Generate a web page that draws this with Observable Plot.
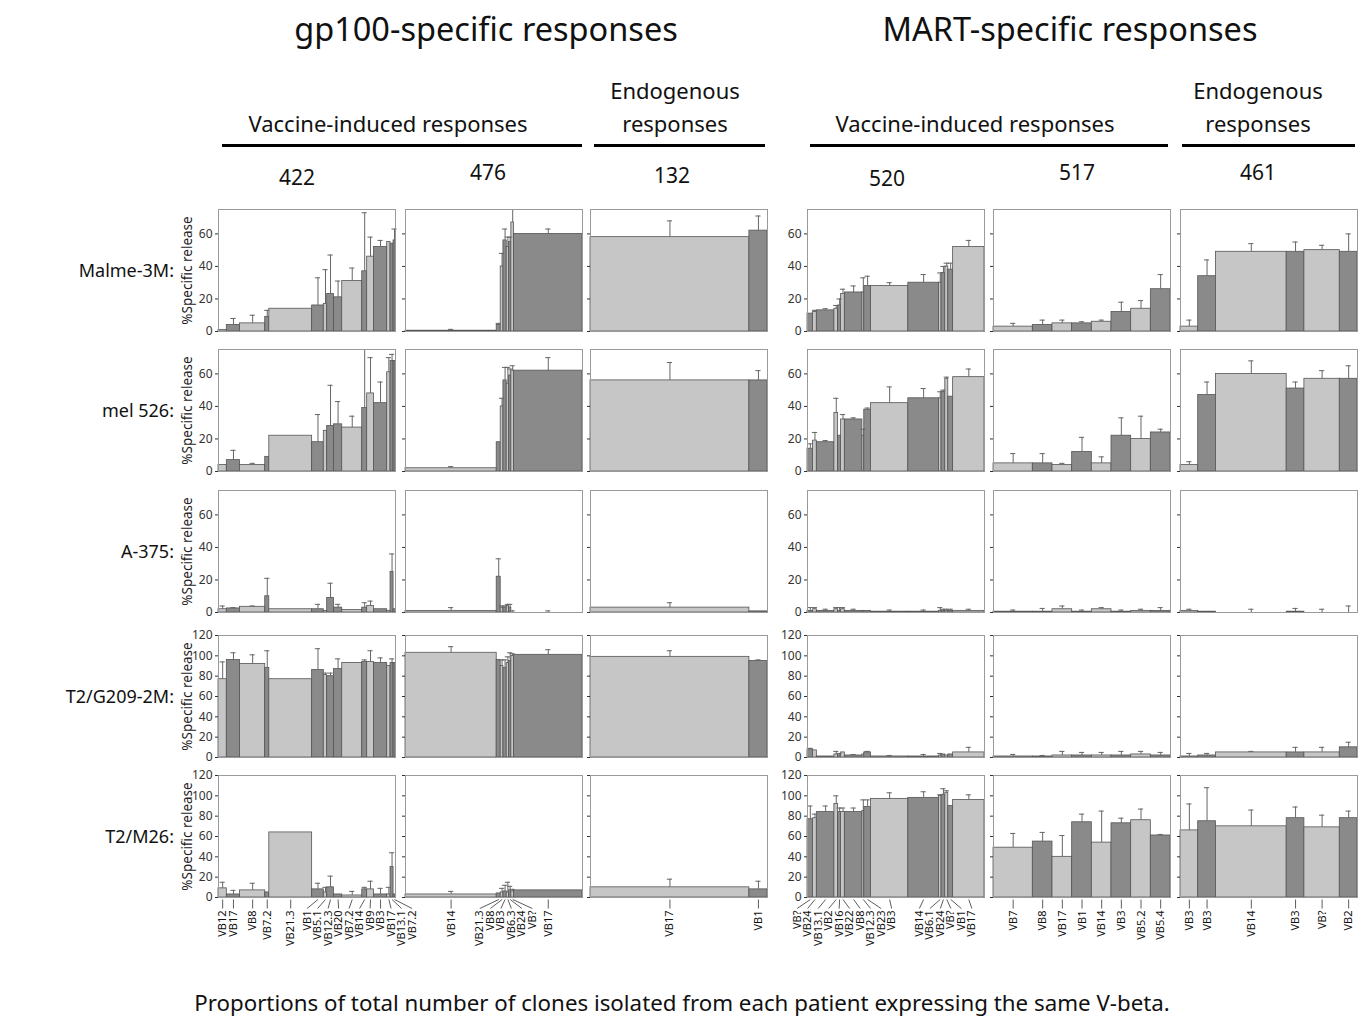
<!DOCTYPE html>
<html><head><meta charset="utf-8">
<script src="https://cdn.jsdelivr.net/npm/d3@7"></script>
<script src="https://cdn.jsdelivr.net/npm/@observablehq/plot@0.6"></script>
<style>
body{margin:0;background:#fff;font-family:"Noto Sans",sans-serif;}
#fig{position:relative;width:1364px;height:1018px;overflow:hidden;background:#fff;}
.t{position:absolute;transform:translate(-50%,-50%);white-space:nowrap;color:#111;text-align:center;line-height:1;}
.rl{position:absolute;transform:translate(-100%,-50%);white-space:nowrap;color:#111;line-height:1;}
.hl{position:absolute;height:3px;background:#000;}
.p{position:absolute;}
</style></head><body><div id="fig"></div>
<script>
// ---------- DATA ----------
const rowNames = ["Malme-3M:", "mel 526:", "A-375:", "T2/G209-2M:", "T2/M26:"];
const rowMax = [75, 75, 75, 120, 120];

const colIds = ["422", "476", "132", "520", "517", "461"];

// patient 422 (gp100, vaccine)
const labels422 = ["VB12","VB17","VB8","VB7.2","VB21.3","VB1","VB5.1","VB12.3","VB20","VB7.2","VB14","VB9","VB3","VB17","VB13.1","VB7.2"];
const share422  = [4.7,7.5,14.2,2.3,24.2,6.6,1.9,3.8,4.7,11.3,2.8,3.8,7.5,1.9,1.7,1.1];
const shade422  = ["L","D","L","D","L","D","L","D","D","L","D","L","D","L","D","D"];
const val422 = [
  [1,4,5,9,14,16,17,23,21,31,37,46,52,55,54,56],
  [4,7,4,9,22,18,25,28,29,27,39,48,42,61,68,68],
  [2,2.5,3.5,10,2,2,1,9,3,1.5,3,4,2,1,25,2],
  [77,96,92,88,77,86,81,80,87,93,94,94,93,90,93,93],
  [9,3,7,5,64,8,5,10,3,2,8,8,3,3,30,3]
];
const err422 = [
  [0,4,5,4,0,17,21,24,10,8,36,12,4,0,0,7],
  [0,6,1,0,0,17,0,25,14,7,36,22,13,9,4,0],
  [2,0.5,0.5,11,0,3,0,9,2,0,3,3,0,0,11,0],
  [17,7,9,17,0,21,2,3,10,0,2,11,5,0,4,0],
  [6,4,7,0,0,6,5,11,0,4,2,8,6,7,14,0]
];

// patient 476 (gp100, vaccine)
const labels476 = ["VB14","VB21.3","VB8","VB3","VB6.3","VB24","VB?","VB17"];
const share476  = [91,4,2.7,3.3,2.3,2.3,2.7,68.3];
const shade476  = ["L","D","L","D","L","D","L","D"];
const val476 = [
  [0.5,4,40,56,52,55,67,60],
  [2,18,40,56,54,59,62,62],
  [1,22,3,3,4,3,0,0],
  [103,96,90,88,93,95,100,101],
  [3,4,5,6,5,7,6,7]
];
const err476 = [
  [0.8,1,8,7,6,3,11,3],
  [1,0,5,8,10,4,3,8],
  [2,11,1,1,1,2,1,1],
  [6,0,6,8,6,8,2,5],
  [3,0,4,6,10,4,2,0]
];

// patient 132 (gp100, endogenous)
const labels132 = ["VB17","VB1"];
const share132  = [158,18];
const shade132  = ["L","D"];
const val132 = [[58,62],[56,56],[3,0.7],[99,95],[10,8]];
const err132 = [[10,9],[11,6],[3,0],[6,1],[8,8]];

// patient 520 (MART, vaccine)
const labels520 = ["VB?","VB24","VB13.1","VB2","VB16","VB22","VB8","VB12.3","VB23","VB3","VB14","VB6.1","VB24","VB?","VB1","VB17"];
const share520  = [15,10,47,10,8,10,47,5,18,100,82,7,10,8,13,84];
const shade520  = ["D","L","D","L","D","L","D","L","D","L","D","L","D","L","D","L"];
const val520 = [
  [11,12,13,14,16,23,24,24,28,28,30,30,36,40,38,52],
  [14,19,18,36,22,32,32,22,38,42,45,45,49,57,46,58],
  [1,2,1,2,1,2,1,1,1,0.5,0.5,1,1,1,1,1],
  [8,7,1,3,2,5,2,3,5,1,1,2,3,2,3,5],
  [77,78,84,92,84,84,84,85,89,97,98,100,101,103,90,96]
];
const err520 = [
  [0,1,1,2,4,3,4,9,6,2,5,6,4,2,4,4],
  [3,5,1,9,0,3,1,4,1,10,6,4,1,1,0,5],
  [2,1,1,1,2,1,1,0,0,1,1,2,1,1,1,1],
  [1,0,0,3,2,0,1,0,1,1,2,2,0,0,0,5],
  [13,4,6,8,4,4,4,11,7,6,6,1,6,2,0,5]
];

// patient 517 (MART, vaccine)
const labels517 = ["VB7","VB8","VB17","VB1","VB14","VB3","VB5.2","VB5.4"];
const share517  = [2,1,1,1,1,1,1,1];
const shade517  = ["L","D","L","D","L","D","L","D"];
const val517 = [
  [3,4,5,5,6,12,14,26],
  [5,5,4,12,5,22,20,24],
  [0.5,0.5,2,0.5,2,0.5,1,1],
  [1,1,2,2,2,2,3,2],
  [49,55,40,74,54,73,76,61]
];
const err517 = [
  [2,3,2,1,1,6,5,9],
  [6,6,1,9,4,11,14,2],
  [1,2,2,1,1,1,1,2],
  [2,1,4,3,3,4,3,3],
  [14,9,21,8,31,5,11,1]
];

// patient 461 (MART, endogenous)
const labels461 = ["VB3","VB3","VB14","VB3","VB?","VB2"];
const share461  = [1,1,4,1,2,1];
const shade461  = ["L","D","L","D","L","D"];
const val461 = [
  [3,34,49,49,50,49],
  [4,47,60,51,57,57],
  [1,0.5,0,0.5,0,0],
  [1,2,5,5,5,10],
  [66,75,70,78,69,78]
];
const err461 = [
  [4,10,5,6,3,11],
  [2,8,8,4,5,8],
  [1,0,2,2,2,4],
  [3,2,1,5,5,5],
  [26,33,16,11,12,7]
];

const caption = "Proportions of total number of clones isolated from each patient expressing the same V-beta.";

// ---------- LAYOUT ----------
const cols = [
  {labels: labels422, share: share422, shade: shade422, val: val422, err: err422},
  {labels: labels476, share: share476, shade: shade476, val: val476, err: err476},
  {labels: labels132, share: share132, shade: shade132, val: val132, err: err132},
  {labels: labels520, share: share520, shade: shade520, val: val520, err: err520},
  {labels: labels517, share: share517, shade: shade517, val: val517, err: err517},
  {labels: labels461, share: share461, shade: shade461, val: val461, err: err461}
];
const frameX = [218, 405, 590, 807, 993, 1180];
const frameY = [209, 349, 490, 635, 775];
const PW = 177, PH = 122;
const ML = 44, MR = 2, MT = 8, MB = 4;
const LIGHT = "#c6c6c6", DARK = "#8a8a8a";

const fig = document.getElementById("fig");
function addText(cls, txt, x, y, size) {
  const d = document.createElement("div");
  d.className = cls;
  d.textContent = txt;
  d.style.left = x + "px";
  d.style.top = y + "px";
  d.style.fontSize = size + "px";
  fig.appendChild(d);
}
function addLine(x1, x2, y) {
  const d = document.createElement("div");
  d.className = "hl";
  d.style.left = x1 + "px"; d.style.width = (x2 - x1) + "px"; d.style.top = (y - 1.5) + "px";
  fig.appendChild(d);
}

// headers
addText("t", "gp100-specific responses", 486, 29, 32.5);
addText("t", "MART-specific responses", 1070, 29, 32.5);
addText("t", "Vaccine-induced responses", 388, 123, 22);
addText("t", "Endogenous", 675, 90, 22);
addText("t", "responses", 675, 123, 22);
addText("t", "Vaccine-induced responses", 975, 123, 22);
addText("t", "Endogenous", 1258, 90, 22);
addText("t", "responses", 1258, 123, 22);
addLine(222, 582, 145); addLine(594, 765, 145);
addLine(810, 1168, 145); addLine(1182, 1355, 145);
const idPos = [[297,177],[488,172],[672,175],[887,178],[1077,172],[1258,172]];
colIds.forEach((id, i) => addText("t", id, idPos[i][0], idPos[i][1], 21));
rowNames.forEach((n, r) => addText("rl", n, 174, frameY[r] + PH / 2, 18));
addText("t", caption, 682, 1003, 22.3);

function buildData(c, ri) {
  let acc = 0;
  return c.labels.map((lab, i) => {
    const x1 = acc; acc += c.share[i];
    const v = c.val[ri][i], e = c.err[ri][i];
    return {lab, x1, x2: acc, xc: (x1 + acc) / 2, v, e, top: v + e, shade: c.shade[i]};
  });
}

function spread(centers, gap) {
  // cluster-based label de-overlap (pixel space)
  const stack = [];
  centers.forEach(c => {
    let cl = {n: 1, sum: c, start: c};
    while (stack.length) {
      const p = stack[stack.length - 1];
      if (p.start + p.n * gap > cl.start) {
        stack.pop();
        const n = p.n + cl.n, sum = p.sum + cl.sum;
        cl = {n, sum, start: sum / n - (n - 1) * gap / 2};
      } else break;
    }
    stack.push(cl);
  });
  const out = [];
  stack.forEach(cl => { for (let k = 0; k < cl.n; k++) out.push(cl.start + k * gap); });
  return out;
}

cols.forEach((c, ci) => {
  const total = d3.sum(c.share);
  const k = PW / total;
  rowNames.forEach((rn, ri) => {
    const data = buildData(c, ri);
    const capHalf = 2.6 / k;
    const withErr = data.filter(d => d.e > 0);
    const showTicks = ci === 0 || ci === 3;
    const marks = [
      Plot.rect(data, {x1: "x1", x2: "x2", y1: 0, y2: "v", fill: "shade", stroke: "#555", strokeWidth: 0.8}),
      Plot.ruleX(withErr, {x: "xc", y1: "v", y2: "top", stroke: "#666", strokeWidth: 1}),
      Plot.ruleY(withErr, {y: "top", x1: d => d.xc - capHalf, x2: d => d.xc + capHalf, stroke: "#666", strokeWidth: 1}),
      Plot.frame({stroke: "#9a9a9a"}),
      Plot.axisY({ticks: d3.range(0, rowMax[ri] + 1, 20), tickSize: 3, tickPadding: 3,
        tickFormat: showTicks ? (d => d) : (() => ""), label: null, fontSize: 12, color: "#333"})
    ];
    if (ci === 0) marks.push(Plot.text(["%Specific release"], {frameAnchor: "left", rotate: -90, dx: -31, textAnchor: "middle", fontSize: 13.5, fill: "#222"}));
    const plot = Plot.plot({
      width: PW + ML + MR, height: PH + MT + MB,
      marginLeft: ML, marginRight: MR, marginTop: MT, marginBottom: MB,
      x: {domain: [0, total], axis: null},
      y: {domain: [0, rowMax[ri]], axis: null, clamp: true},
      color: {domain: ["L", "D"], range: [LIGHT, DARK]},
      style: {background: "transparent", fontFamily: "Noto Sans", overflow: "visible"},
      marks
    });
    const div = document.createElement("div");
    div.className = "p";
    div.style.left = (frameX[ci] - ML) + "px";
    div.style.top = (frameY[ri] - MT) + "px";
    div.style.width = (PW + ML + MR) + "px";
    div.appendChild(plot);
    fig.appendChild(div);

    if (ri === rowNames.length - 1) {
      const pxC = data.map(d => d.xc * k);
      const pxL = spread(pxC, 10.5);
      data.forEach((d, i) => { d.lx = pxL[i] / k; });
      const SH = 80;
      const strip = Plot.plot({
        width: PW + ML + MR, height: SH,
        marginLeft: ML, marginRight: MR, marginTop: 0, marginBottom: 0,
        x: {domain: [0, total], axis: null},
        y: {domain: [0, SH], range: [0, SH], axis: null},
        style: {background: "transparent", fontFamily: "Noto Sans", overflow: "visible"},
        marks: [
          Plot.link(data, {x1: "xc", y1: 2, x2: "lx", y2: 11, stroke: "#333", strokeWidth: 0.8}),
          Plot.text(data, {x: "lx", y: 13, text: "lab", rotate: -90, textAnchor: "end", fontSize: 11, fill: "#111"})
        ]
      });
      const sd = document.createElement("div");
      sd.className = "p";
      sd.style.left = (frameX[ci] - ML) + "px";
      sd.style.top = (frameY[ri] + PH) + "px";
      sd.style.width = (PW + ML + MR) + "px";
      sd.appendChild(strip);
      fig.appendChild(sd);
    }
  });
});
</script></body></html>
